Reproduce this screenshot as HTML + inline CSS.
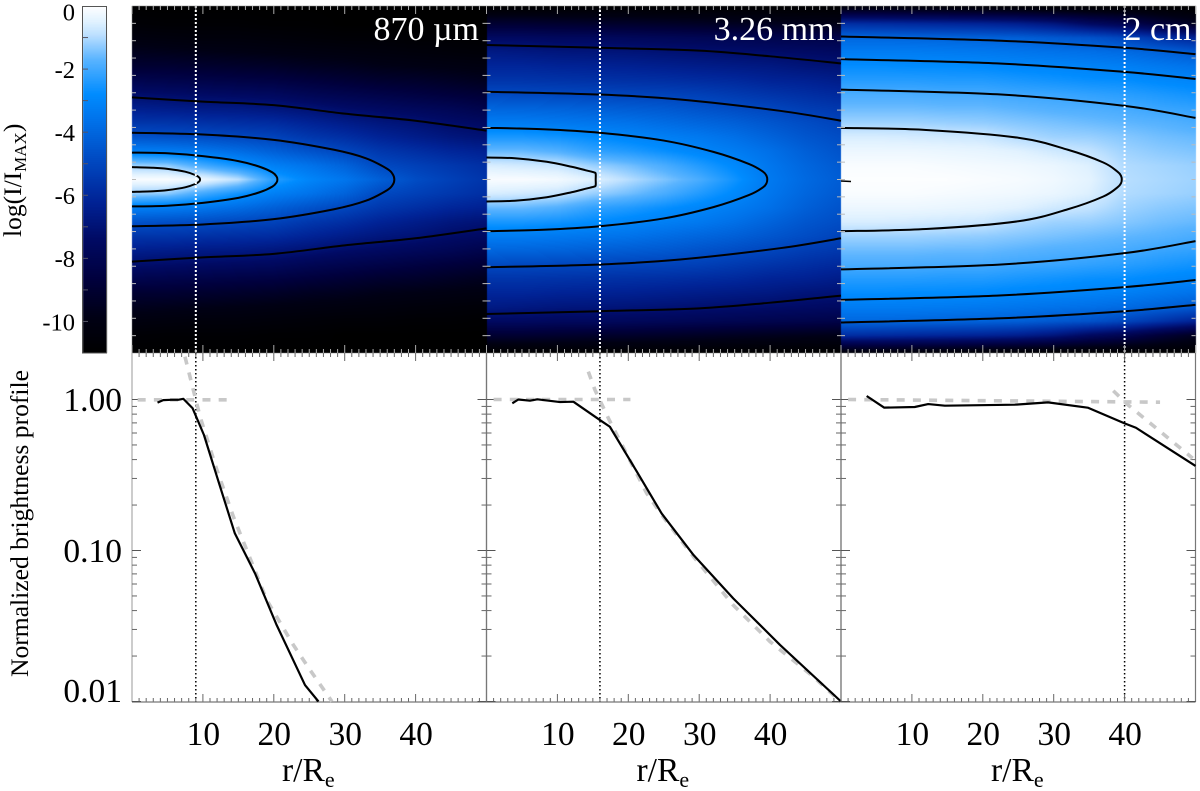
<!DOCTYPE html>
<html lang="en">
<head>
<meta charset="utf-8">
<title>Brightness maps and profiles</title>
<style>
html,body{margin:0;padding:0;background:#fff;width:1200px;height:791px;overflow:hidden}
#stage{position:relative;width:1200px;height:791px}
#heat,#over{position:absolute;left:0;top:0}
text{font-family:"Liberation Serif",serif;fill:#000}
</style>
</head>
<body>
<div id="stage">
<canvas id="heat" width="1200" height="791"></canvas>
<svg id="over" width="1200" height="791" viewBox="0 0 1200 791" xmlns="http://www.w3.org/2000/svg">
  <text transform="translate(21,237) rotate(-90)" font-size="25.5">log(I/I<tspan font-size="17" dy="5">MAX</tspan><tspan dy="-5">)</tspan></text>
  <text transform="translate(28,677) rotate(-90)" font-size="25.5" textLength="307" lengthAdjust="spacingAndGlyphs">Normalized brightness profile</text>
</svg>
</div>
<script>
// ---------- data ----------
const wavelengthLabels = ['870 µm', '3.26 mm', '2 cm'];
const radiusColumns = [0, 5, 10, 15, 20, 25, 30, 35, 40, 45, 50];
const heightRows = [0, 2, 4, 6, 8, 10, 12, 14, 16, 18, 20, 22, 24.5];

const logIntensity870um = [
 [-0.1,-1.2,-3.2,-4.6,-5.6,-6.4,-7.2,-8.1,-9,-9.6,-10.2,-10.7,-11],
 [-0.1,-1.3,-3.3,-4.7,-5.6,-6.5,-7.3,-8.2,-9,-9.7,-10.3,-10.8,-11],
 [-0.3,-2,-3.5,-4.8,-5.7,-6.6,-7.4,-8.3,-9.1,-9.8,-10.4,-10.8,-11],
 [-0.9,-2.6,-3.8,-4.95,-5.8,-6.65,-7.5,-8.4,-9.2,-9.9,-10.4,-10.8,-11],
 [-2.3,-3.2,-4.2,-5.1,-5.9,-6.8,-7.6,-8.5,-9.3,-10,-10.5,-10.9,-11],
 [-3,-3.6,-4.6,-5.5,-6.2,-7,-7.9,-8.7,-9.5,-10.1,-10.6,-10.9,-11],
 [-3.5,-4.1,-5,-5.8,-6.5,-7.3,-8.1,-8.9,-9.6,-10.2,-10.7,-11,-11],
 [-4.2,-4.9,-5.5,-6.2,-6.8,-7.5,-8.3,-9.1,-9.8,-10.3,-10.7,-11,-11],
 [-4.8,-5.2,-5.8,-6.5,-7,-7.7,-8.5,-9.2,-9.9,-10.4,-10.8,-11,-11],
 [-5.2,-5.5,-6.1,-6.8,-7.3,-7.9,-8.7,-9.4,-10,-10.5,-10.8,-11,-11],
 [-5.6,-5.8,-6.3,-7,-7.5,-8.2,-8.9,-9.6,-10.1,-10.6,-10.9,-11,-11]
];
const logIntensity326mm = [
 [-0.1,-0.6,-1.6,-2.5,-3.3,-4,-4.85,-5.6,-6.1,-6.6,-7.5,-9,-11],
 [-0.1,-0.7,-1.6,-2.5,-3.3,-4.05,-4.9,-5.6,-6.1,-6.7,-7.5,-9,-11],
 [-0.2,-0.8,-1.8,-2.6,-3.4,-4.1,-4.95,-5.65,-6.2,-6.8,-7.6,-9.1,-11],
 [-0.5,-1.2,-2.2,-2.8,-3.5,-4.2,-5,-5.7,-6.25,-6.85,-7.6,-9.2,-11],
 [-0.95,-1.5,-2.4,-3,-3.6,-4.3,-5.05,-5.75,-6.3,-6.9,-7.7,-9.2,-11],
 [-1.4,-1.9,-2.7,-3.2,-3.8,-4.4,-5.1,-5.8,-6.4,-7,-7.8,-9.3,-11],
 [-1.9,-2.4,-3,-3.4,-4,-4.6,-5.2,-5.9,-6.5,-7.1,-7.9,-9.4,-11],
 [-2.6,-2.9,-3.3,-3.7,-4.2,-4.8,-5.4,-6,-6.6,-7.2,-8,-9.5,-11],
 [-3.4,-3.5,-3.7,-4.1,-4.5,-5,-5.6,-6.2,-6.7,-7.3,-8.1,-9.6,-11],
 [-3.9,-4,-4.2,-4.5,-4.8,-5.3,-5.8,-6.3,-6.9,-7.4,-8.2,-9.7,-11],
 [-4.3,-4.4,-4.6,-4.8,-5.1,-5.5,-6,-6.5,-7,-7.5,-8.3,-9.8,-11]
];
const logIntensity2cm = [
 [-0.05,-0.1,-0.3,-0.6,-1.15,-1.55,-1.9,-2.35,-2.75,-3.3,-3.95,-5.8,-10.5],
 [-0.05,-0.1,-0.3,-0.6,-1.15,-1.55,-1.9,-2.35,-2.75,-3.3,-3.95,-5.9,-10.5],
 [-0.05,-0.1,-0.3,-0.65,-1.15,-1.55,-1.9,-2.35,-2.8,-3.3,-4,-6,-10.6],
 [-0.05,-0.15,-0.35,-0.7,-1.2,-1.6,-1.95,-2.4,-2.8,-3.35,-4.05,-6.1,-10.7],
 [-0.1,-0.2,-0.4,-0.75,-1.25,-1.6,-1.95,-2.4,-2.85,-3.4,-4.1,-6.2,-10.8],
 [-0.15,-0.25,-0.5,-1,-1.35,-1.7,-2.05,-2.5,-2.95,-3.5,-4.2,-6.4,-10.9],
 [-0.25,-0.35,-0.7,-1.15,-1.45,-1.8,-2.1,-2.6,-3,-3.6,-4.4,-6.8,-11],
 [-0.45,-0.55,-0.85,-1.2,-1.55,-1.85,-2.2,-2.7,-3.1,-3.7,-4.6,-7.5,-11],
 [-0.95,-1,-1.15,-1.35,-1.65,-1.95,-2.3,-2.75,-3.2,-3.85,-5,-8,-11],
 [-1.05,-1.1,-1.3,-1.5,-1.75,-2.1,-2.45,-2.9,-3.4,-4.1,-5.6,-8.8,-11],
 [-1.15,-1.2,-1.4,-1.6,-1.9,-2.2,-2.6,-3,-3.6,-4.4,-6.2,-9.5,-11]
];

const colormapLevels = [0,-0.5,-0.9,-1.7,-2.8,-3.6,-5,-6.2,-7.4,-8.7,-9.9,-11];
const colormapRed    = [255,225,190,90,0,0,0,0,0,0,0,0];
const colormapGreen  = [255,242,225,180,140,115,70,35,10,0,0,0];
const colormapBlue   = [255,255,255,255,255,235,190,150,100,60,20,0];
const colorbarTicks  = [0,-2,-4,-6,-8,-10];
const colorbarLabels = ['0','-2','-4','-6','-8','-10'];

// contour paths in (r, height) data units; closed ones end on the midplane
const contours870um = [
 {r:[0,3,5,7.5,9,9.5,9.6], z:[1.75,1.66,1.5,1.1,0.6,0.25,0]},
 {r:[0,5,10,15,18,19.8,20.4,20.5], z:[3.8,3.7,3.3,2.6,1.8,1,0.4,0]},
 {r:[0,10,20,28.5,33,36,36.8,37], z:[6.6,6.35,5.6,4.2,3,1.5,0.7,0]},
 {r:[0,10,20,30,40,50], z:[11.6,11,10.5,9.3,8.3,6.9]}
];
const contours326mm = [
 {r:[0,4,8.5,12,14,15.2,15.4,15.4], z:[3.1,3,2.5,1.8,1.3,1,0.8,0]},
 {r:[0,8,16,25,32,37,39,39.5,39.6], z:[7.3,7.1,6.6,5.5,3.9,2.2,1.1,0.5,0]},
 {r:[0,16,27.3,41.4,50], z:[12.4,12,11.3,9.7,8.3]},
 {r:[0,16,30,40,50], z:[19,18.6,18.2,17.4,16.4]}
];
const contours2cm = [
 {r:[0,12,25,32,37,39,39.5,39.6], z:[7.3,7,5.9,4.2,2.4,1.1,0.5,0]},
 {r:[0,22.6,40,50], z:[12.7,12,10.4,8.7]},
 {r:[0,22,40,50], z:[17,16.4,15.2,14.2]},
 {r:[0,22.6,40,50], z:[20.2,19.6,18.6,17.7]}
];

const profileRadius870um = [3.6,4.4,5.5,6.5,7.25,8.55,10.15,12.2,14.5,17.35,20.4,24.4,26.3];
const profileValue870um  = [0.953,0.99,0.995,0.995,1.01,0.875,0.582,0.286,0.13,0.0706,0.0321,0.01285,0.01];
const profileRadius326mm = [3.64,4.49,6.13,7.17,10.37,12.25,16,17.4,21.2,24.7,29.2,34.8,41.4,50];
const profileValue326mm  = [0.944,1,0.982,1.003,0.962,0.967,0.731,0.66,0.333,0.176,0.0933,0.0482,0.0237,0.01];
const profileRadius2cm   = [3.62,6.1,10.4,12.3,14.65,24.5,29.2,34.8,40,41.6,50];
const profileValue2cm    = [1.055,0.883,0.892,0.933,0.91,0.924,0.957,0.883,0.695,0.65,0.363];

const flatRadius870um = [0.8,13.5];
const flatValue870um  = [0.995,0.995];
const flatRadius326mm = [1,20.3];
const flatValue326mm  = [1,1];
const flatRadius2cm   = [1,45];
const flatValue2cm    = [1,0.96];

const slopeRadius870um = [7.47,8.65,9.6,11.9,14.3,19,22.75,25.1,28.2];
const slopeValue870um  = [1.92,1.156,0.77,0.35,0.1675,0.047,0.0237,0.0162,0.01];
const slopeRadius326mm = [14.36,15.3,17.2,22.6,24.9,29.2,34.8,40,46.1,50];
const slopeValue326mm  = [1.53,1.156,0.75,0.239,0.1675,0.091,0.0435,0.0249,0.0146,0.0099];
const slopeRadius2cm   = [38.4,40.5,49.6];
const slopeValue2cm    = [1.143,0.92,0.408];

const transitionRadii = [9,16,40];
const xTickValues = [10,20,30,40];
const yMajorValues = [1,0.1,0.01];
const yMajorLabels = ['1.00','0.10','0.01'];
const yMinorMultipliers = [2,3,4,5,6,7,8,9];

// ---------- layout and scales ----------
const panelLeft = [132,486.5,841];
const panelWidth = 354.5;
const mapTop = 6, midY = 179.5, mapBottom = 353, plotBottom = 702;
const pxPerHeight = 7.08;
const panels = [
 {grid:logIntensity870um, contours:contours870um, profR:profileRadius870um, profV:profileValue870um, flatR:flatRadius870um, flatV:flatValue870um, slopeR:slopeRadius870um, slopeV:slopeValue870um},
 {grid:logIntensity326mm, contours:contours326mm, profR:profileRadius326mm, profV:profileValue326mm, flatR:flatRadius326mm, flatV:flatValue326mm, slopeR:slopeRadius326mm, slopeV:slopeValue326mm},
 {grid:logIntensity2cm, contours:contours2cm, profR:profileRadius2cm, profV:profileValue2cm, flatR:flatRadius2cm, flatV:flatValue2cm, slopeR:slopeRadius2cm, slopeV:slopeValue2cm}
];
function xScale(p, r){ return panelLeft[p] + r * panelWidth / 50; }
function yScale(v){ return 399.5 - 151 * Math.log10(v); }
function heightScale(z){ return z * pxPerHeight; }
function colorbarY(v){ return mapTop + (-v / 11) * (mapBottom - mapTop); }

function colorFor(v){
  if (v >= colormapLevels[0]) return [colormapRed[0],colormapGreen[0],colormapBlue[0]];
  for (let i = 1; i < colormapLevels.length; i++){
    if (v >= colormapLevels[i]){
      const t = (colormapLevels[i-1] - v) / (colormapLevels[i-1] - colormapLevels[i]);
      return [colormapRed[i-1] + t*(colormapRed[i]-colormapRed[i-1]),
              colormapGreen[i-1] + t*(colormapGreen[i]-colormapGreen[i-1]),
              colormapBlue[i-1] + t*(colormapBlue[i]-colormapBlue[i-1])];
    }
  }
  return [0,0,0];
}
function bracket(list, v){
  let i = 0;
  while (i < list.length - 2 && v > list[i+1]) i++;
  return [i, Math.max(0, Math.min(1, (v - list[i]) / (list[i+1] - list[i])))];
}

// ---------- raster maps ----------
const ctx = document.getElementById('heat').getContext('2d');
const image = ctx.createImageData(1200, 791);
function setPixel(x, y, c){
  const k = (y * 1200 + x) * 4;
  image.data[k] = c[0]; image.data[k+1] = c[1]; image.data[k+2] = c[2]; image.data[k+3] = 255;
}
for (let y = 0; y < 791; y++) for (let x = 0; x < 1200; x++){
  const k = (y * 1200 + x) * 4;
  image.data[k] = 255; image.data[k+1] = 255; image.data[k+2] = 255; image.data[k+3] = 255;
}
panels.forEach(function(panel, p){
  const x0 = Math.round(panelLeft[p]), x1 = Math.round(panelLeft[p] + panelWidth);
  for (let x = x0; x < x1; x++){
    const [ci, ct] = bracket(radiusColumns, (x + 0.5 - panelLeft[p]) * 50 / panelWidth);
    for (let y = mapTop; y < mapBottom; y++){
      const [ri, rt] = bracket(heightRows, Math.abs(y + 0.5 - midY) / pxPerHeight);
      const a = panel.grid[ci][ri] + rt * (panel.grid[ci][ri+1] - panel.grid[ci][ri]);
      const b = panel.grid[ci+1][ri] + rt * (panel.grid[ci+1][ri+1] - panel.grid[ci+1][ri]);
      setPixel(x, y, colorFor(a + ct * (b - a)));
    }
  }
});
for (let y = mapTop; y < mapBottom; y++){
  const c = colorFor(-(y + 0.5 - mapTop) * 11 / (mapBottom - mapTop));
  for (let x = 83; x < 107; x++) setPixel(x, y, c);
}
ctx.putImageData(image, 0, 0);

// ---------- vector overlay ----------
const svg = document.getElementById('over');
const NS = 'http://www.w3.org/2000/svg';
function line(parent, x1, y1, x2, y2, stroke, width){
  const el = document.createElementNS(NS, 'line');
  el.setAttribute('x1', x1); el.setAttribute('y1', y1);
  el.setAttribute('x2', x2); el.setAttribute('y2', y2);
  el.setAttribute('stroke', stroke); el.setAttribute('stroke-width', width);
  parent.appendChild(el);
  return el;
}
function label(parent, x, y, size, anchor, fill, content){
  const el = document.createElementNS(NS, 'text');
  el.setAttribute('x', x); el.setAttribute('y', y);
  el.setAttribute('font-size', size); el.setAttribute('text-anchor', anchor);
  el.style.fill = fill;
  el.textContent = content;
  parent.appendChild(el);
  return el;
}
function group(parent){
  const el = document.createElementNS(NS, 'g');
  parent.appendChild(el);
  return el;
}
function polyline(parent, pts, stroke, width, dash){
  const el = document.createElementNS(NS, 'polyline');
  el.setAttribute('points', pts.map(function(q){ return q[0].toFixed(2) + ',' + q[1].toFixed(2); }).join(' '));
  el.setAttribute('fill', 'none');
  el.setAttribute('stroke', stroke);
  el.setAttribute('stroke-width', width);
  el.setAttribute('stroke-linejoin', 'round');
  if (dash) el.setAttribute('stroke-dasharray', dash);
  parent.appendChild(el);
  return el;
}
function smoothPath(pts){
  let d = 'M' + pts[0][0].toFixed(2) + ' ' + pts[0][1].toFixed(2);
  for (let i = 0; i < pts.length - 1; i++){
    const a = pts[Math.max(0, i-1)], b = pts[i], c = pts[i+1], e = pts[Math.min(pts.length-1, i+2)];
    d += 'C' + (b[0]+(c[0]-a[0])/6).toFixed(2) + ' ' + (b[1]+(c[1]-a[1])/6).toFixed(2) + ' ' +
         (c[0]-(e[0]-b[0])/6).toFixed(2) + ' ' + (c[1]-(e[1]-b[1])/6).toFixed(2) + ' ' +
         c[0].toFixed(2) + ' ' + c[1].toFixed(2);
  }
  return d;
}

// colorbar frame, ticks and labels
const colorbarGroup = group(svg);


const frame = document.createElementNS(NS, 'rect');
frame.setAttribute('x', 82.5); frame.setAttribute('y', 6.5);
frame.setAttribute('width', 24); frame.setAttribute('height', 346.5);
frame.setAttribute('fill', 'none'); frame.setAttribute('stroke', '#555'); frame.setAttribute('stroke-width', 1);


colorbarGroup.appendChild(frame);
for (let v = -1; v >= -10; v--){
  const tick = line(colorbarGroup, 83, colorbarY(v), 88, colorbarY(v), '#556', 1);
  
  
}
colorbarTicks.forEach(function(v, i){
  const t = label(colorbarGroup, 75, Math.max(colorbarY(v) + 8.8, 20.7), 24.5, 'end', '#000', colorbarLabels[i]);
  
  
});

panels.forEach(function(panel, p){
  const L = panelLeft[p], R = L + panelWidth;
  const g = group(svg);
  
  

  // contours, mirrored about the midplane
  panel.contours.forEach(function(c){
    const upper = c.r.map(function(r, i){ return [xScale(p, r), midY - heightScale(c.z[i])]; });
    const lower = c.r.map(function(r, i){ return [xScale(p, r), midY + heightScale(c.z[i])]; });
    const closed = c.z[c.z.length - 1] === 0;
    const paths = closed ? [upper.concat(lower.slice(0, -1).reverse())] : [upper, lower];
    paths.forEach(function(pts){
      const el = document.createElementNS(NS, 'path');
      el.setAttribute('d', smoothPath(pts));
      el.setAttribute('fill', 'none');
      el.setAttribute('stroke', '#000');
      el.setAttribute('stroke-width', 2);
      
      
      g.appendChild(el);
    });
  });
  if (p === 2){
    const nub = line(g, L, 181, L + 10, 181.5, '#000', 1.6);
    
    
  }

  // transition radius markers
  const dotTop = line(g, xScale(p, transitionRadii[p]), mapTop, xScale(p, transitionRadii[p]), mapBottom, '#fff', 2);
  dotTop.setAttribute('stroke-dasharray', '2 2');
  
  
  const dotBottom = line(g, xScale(p, transitionRadii[p]), mapBottom, xScale(p, transitionRadii[p]), plotBottom, '#000', 1.5);
  dotBottom.setAttribute('stroke-dasharray', '1.5 2.5');
  
  

  // map ticks
  for (let i = 1; i < 20; i++){
    const y = mapTop + i * (mapBottom - mapTop) / 20;
    const a = line(g, L, y, L + 4, y, '#bbb', 1);
    
    
    const b = line(g, R, y, R - 4, y, '#bbb', 1);
    
    
  }
  for (let r = 0; r <= 50; r++){
    const major = r % 10 === 0;
    const x = xScale(p, r);
    const a = line(g, x, mapTop, x, mapTop + (major ? 8 : 4), '#aaa', 1);
    
    
    const b = line(g, x, mapBottom - (major ? 8 : 4), x, mapBottom, '#aaa', 1);
    
    
    const c = line(g, x, mapBottom, x, mapBottom + (major ? 8 : 4), '#666', 1);
    
    
    const d = line(g, x, plotBottom, x, plotBottom - (major ? 8 : 4), '#666', 1);
    
    
  }

  // profile frame
  const left = line(g, L, mapBottom, L, plotBottom, p === 0 ? '#aaa' : '#777', 1.2);
  
  
  const right = line(g, R, mapBottom, R, plotBottom, '#777', 1.2);
  
  
  const base = line(g, L, plotBottom, R, plotBottom, '#777', 1.2);
  
  

  // log ticks
  yMajorValues.forEach(function(v){
    const y = yScale(v);
    const a = line(g, L, y, L + 9, y, '#555', 1);
    
    
    const b = line(g, R, y, R - 9, y, '#555', 1);
    
    
    if (v < 1) yMinorMultipliers.forEach(function(m){
      const ym = yScale(v * m);
      const c = line(g, L, ym, L + 5, ym, '#666', 1);
      
      
      const d = line(g, R, ym, R - 5, ym, '#666', 1);
      
      
    });
  });

  // fits and measured profile
  const fitFlat = polyline(g, panel.flatR.map(function(r, i){ return [xScale(p, r), yScale(panel.flatV[i])]; }), '#c8c8c8', 3.6, '8 8.2');
  
  
  const fitSlope = polyline(g, panel.slopeR.map(function(r, i){ return [xScale(p, r), yScale(panel.slopeV[i])]; }), '#c8c8c8', 3.6, '8 8.2');
  
  
  const prof = polyline(g, panel.profR.map(function(r, i){ return [xScale(p, r), yScale(panel.profV[i])]; }), '#000', 2.2);
  
  

  // x tick labels and title
  xTickValues.forEach(function(v){
    const t = label(g, xScale(p, v) + 0.5, 745, 33.5, 'middle', '#000', String(v));
    
    
  });
  const title = label(g, L + 150, 781, 33.5, 'start', '#000', 'r/R');
  
  
  const sub = document.createElementNS(NS, 'tspan');
  sub.setAttribute('font-size', 22);
  sub.setAttribute('dy', 6);
  sub.textContent = 'e';
  title.appendChild(sub);

  // wavelength caption
  const cap = label(g, [479,834.5,1191.5][p], 40, 34, 'end', '#fff', wavelengthLabels[p]);
  
  
});

yMajorValues.forEach(function(v, i){
  const t = label(svg, 122, Math.min(yScale(v) + 11.5, 702), 33.5, 'end', '#000', yMajorLabels[i]);
  
  
});
</script>
</body>
</html>
